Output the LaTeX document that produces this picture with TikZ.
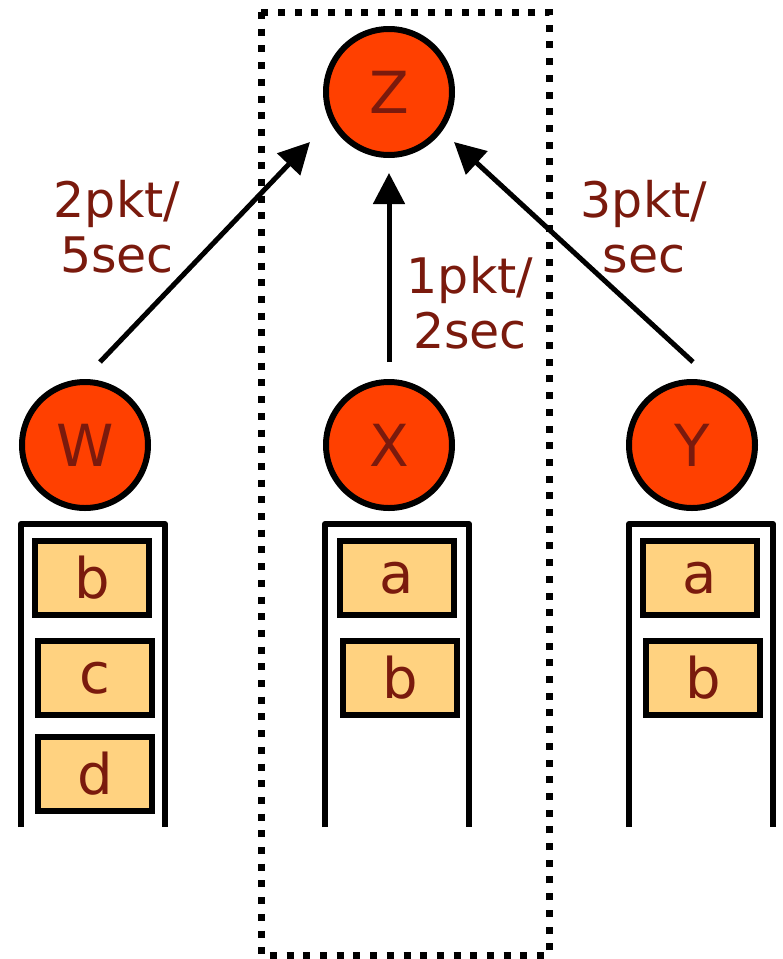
\documentclass[tikz,border=0pt]{standalone}
\usepackage{fontspec}
\setmainfont{DejaVu Sans}
\usetikzlibrary{arrows.meta}
\definecolor{nodered}{RGB}{255,64,0}
\definecolor{pktfill}{RGB}{255,210,128}
\definecolor{txtred}{RGB}{122,26,13}
\tikzset{
  host/.style={circle, draw=black, line width=6pt, fill=nodered, minimum size=126pt,
    inner sep=0pt, text=txtred, font=\fontsize{58}{60}\selectfont},
  pkt/.style={rectangle, draw=black, line width=6pt, fill=pktfill, minimum width=114pt,
    minimum height=74pt, inner sep=0pt, text=txtred, font=\fontsize{56}{60}\selectfont},
  queue/.style={draw=black, line width=6pt, line join=round},
  rate/.style={align=center, anchor=base, text=txtred, inner sep=0pt,
    font=\fontsize{49}{55}\selectfont},
  flow/.style={draw=black, line width=5pt, -{Triangle[length=31pt,width=31pt]}},
  region/.style={draw=black, line width=7pt, dash pattern=on 7pt off 9.7pt}
}
\begin{document}
\begin{tikzpicture}[x=1pt,y=-1pt]
\useasboundingbox (0,0) rectangle (783,959);

% dotted region around X and Z
\draw[region] (261,12) rectangle (549,955);

% hosts
\node[host] (Z) at (389,92) {Z};
\node[host] (W) at (85,445) {W};
\node[host] (X) at (389,445) {X};
\node[host] (Y) at (692,445) {Y};

% queues
\draw[queue] (21,827) -- (21,524) -- (165,524) -- (165,827);
\draw[queue] (325,827) -- (325,524) -- (469,524) -- (469,827);
\draw[queue] (629,827) -- (629,524) -- (773,524) -- (773,827);

\node[pkt] (Wb) at (92,578) {b};
\node[pkt] (Wc) at (95,678) {c};
\node[pkt] (Wd) at (95,774) {d};
\node[pkt] (Xa) at (397,578) {a};
\node[pkt] (Xb) at (400,678) {b};
\node[pkt] (Ya) at (699.5,578) {a};
\node[pkt] (Yb) at (703,678) {b};

% flows into Z
\coordinate (Wout) at (100,362);
\coordinate (Xout) at (389,362);
\coordinate (Yout) at (693,362);
\coordinate (ZinW) at (310,142);
\coordinate (ZinX) at (389,173);
\coordinate (ZinY) at (454,142);
\draw[flow] (Wout) -- (ZinW);
\draw[flow] (Xout) -- (ZinX);
\draw[flow] (Yout) -- (ZinY);

% rates (base anchor sits on the last line)
\node[rate] (rW) at (117,272) {2pkt/\\5sec};
\node[rate] (rX) at (470,348) {1pkt/\\2sec};
\node[rate] (rY) at (644,272) {3pkt/\\sec};
\end{tikzpicture}
\end{document}
